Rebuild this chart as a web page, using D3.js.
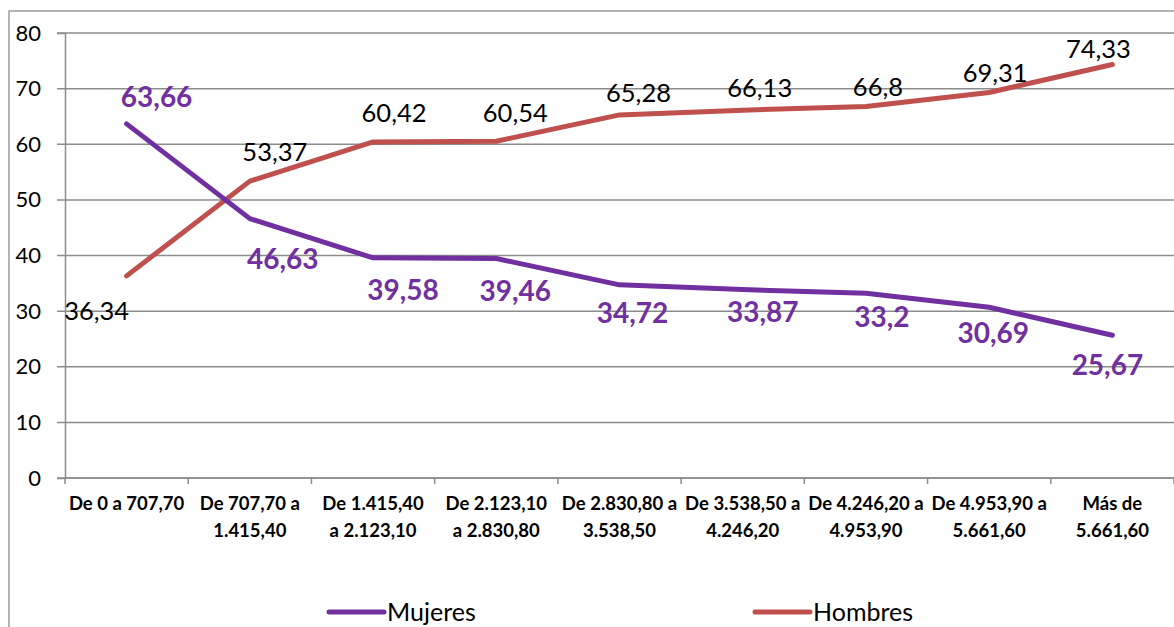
<!DOCTYPE html>
<html>
<head>
<meta charset="utf-8">
<script src="https://cdn.jsdelivr.net/npm/d3@7"></script>
<style>
  html, body { margin: 0; padding: 0; background: #fff; }
  svg { display: block; font-family: Lato, "Open Sans", sans-serif; }
</style>
</head>
<body>
<div id="chart"></div>
<script>
// data
const categories = [
    "De 0 a 707,70",
    "De 707,70 a\n1.415,40",
    "De 1.415,40\na 2.123,10",
    "De 2.123,10\na 2.830,80",
    "De 2.830,80 a\n3.538,50",
    "De 3.538,50 a\n4.246,20",
    "De 4.246,20 a\n4.953,90",
    "De 4.953,90 a\n5.661,60",
    "Más de\n5.661,60"
];
const mujeres = [63.66, 46.63, 39.58, 39.46, 34.72, 33.87, 33.2, 30.69, 25.67];
const hombres = [36.34, 53.37, 60.42, 60.54, 65.28, 66.13, 66.8, 69.31, 74.33];
const yTicks = [0, 10, 20, 30, 40, 50, 60, 70, 80];

// colours
const MUJERES_COLOR = "#7030A0";
const HOMBRES_COLOR = "#C0504D";
const GRID_COLOR = "#8c8c8c";

const width = 1174, height = 627;
const plot = { left: 65, right: 1174, top: 33, bottom: 478 };

// label nudges (px from point), as placed in the original
const mujNudge = [[30, -27], [33, 40], [30, 32], [19, 32], [13, 28], [20, 22], [16, 24], [4, 26], [-5, 30]];
const homNudge = [[-30, 35], [25, -29], [21, -29], [19, -28], [19, -22], [17, -22], [12, -20], [6, -20], [-14, -16]];

var svg = d3.select("#chart")
    .append("svg")
    .attr("width", width)
    .attr("height", height);

// outer chart border (cropped on the right/bottom)
svg.append("rect")
    .attr("x", 9)
    .attr("y", 11)
    .attr("width", width + 20)
    .attr("height", height + 20)
    .attr("fill", "white")
    .attr("stroke", GRID_COLOR)
    .attr("stroke-width", 1.3);

var xScale = d3.scaleBand()
    .domain(d3.range(categories.length))
    .range([plot.left, plot.right]);

var yScale = d3.scaleLinear()
    .domain([0, 80])
    .range([plot.bottom, plot.top]);

// gridlines
svg.append("g")
    .selectAll("line")
    .data(yTicks)
    .enter()
    .append("line")
    .attr("x1", plot.left - 8)
    .attr("x2", plot.right)
    .attr("y1", d => yScale(d))
    .attr("y2", d => yScale(d))
    .attr("stroke", GRID_COLOR)
    .attr("stroke-width", 1.5);

// y axis
var yAxis = svg.append("g")
    .attr("transform", `translate(${plot.left},0)`)
    .call(d3.axisLeft(yScale).tickValues(yTicks).tickSize(8).tickPadding(16));
yAxis.select(".domain").attr("stroke", GRID_COLOR).attr("stroke-width", 1.5);
yAxis.selectAll(".tick line").remove();
yAxis.selectAll(".tick text")
    .attr("font-family", "Lato, sans-serif")
    .attr("font-size", 22)
    .attr("fill", "black");

// x axis ticks at category boundaries
var bounds = d3.range(categories.length + 1).map(i => plot.left + i * xScale.bandwidth());
svg.append("g")
    .selectAll("line")
    .data(bounds)
    .enter()
    .append("line")
    .attr("x1", d => d)
    .attr("x2", d => d)
    .attr("y1", plot.bottom)
    .attr("y2", plot.bottom + 6)
    .attr("stroke", GRID_COLOR)
    .attr("stroke-width", 1.5);

svg.append("line")
    .attr("x1", plot.left)
    .attr("x2", plot.right)
    .attr("y1", plot.bottom)
    .attr("y2", plot.bottom)
    .attr("stroke", GRID_COLOR)
    .attr("stroke-width", 1.5);

// category labels
var catText = svg.append("g")
    .selectAll("text")
    .data(categories)
    .enter()
    .append("text")
    .attr("x", (d, i) => xScale(i) + xScale.bandwidth() / 2)
    .attr("y", plot.bottom + 32)
    .attr("text-anchor", "middle")
    .attr("font-size", 18.5)
    .attr("font-weight", "bold")
    .attr("fill", "black");
catText.each(function (d) {
    var lines = d.split("\n");
    var t = d3.select(this);
    lines.forEach((ln, k) => {
        t.append("tspan")
            .attr("x", t.attr("x"))
            .attr("dy", k === 0 ? 0 : 27)
            .text(ln);
    });
});

var cx = i => xScale(i) + xScale.bandwidth() / 2;

var line = d3.line()
    .x((d, i) => cx(i))
    .y(d => yScale(d));

svg.append("path")
    .datum(hombres)
    .attr("d", line)
    .attr("fill", "none")
    .attr("stroke", HOMBRES_COLOR)
    .attr("stroke-width", 5)
    .attr("stroke-linejoin", "round")
    .attr("stroke-linecap", "round");

svg.append("path")
    .datum(mujeres)
    .attr("d", line)
    .attr("fill", "none")
    .attr("stroke", MUJERES_COLOR)
    .attr("stroke-width", 5)
    .attr("stroke-linejoin", "round")
    .attr("stroke-linecap", "round");

var fmt = v => String(v).replace(".", ",");

// data labels
svg.append("g")
    .selectAll("text")
    .data(hombres)
    .enter()
    .append("text")
    .attr("x", (d, i) => cx(i) + homNudge[i][0])
    .attr("y", (d, i) => yScale(d) + homNudge[i][1])
    .attr("dy", "0.36em")
    .attr("text-anchor", "middle")
    .attr("font-size", 25.5)
    .attr("fill", "black")
    .text(fmt);

svg.append("g")
    .selectAll("text")
    .data(mujeres)
    .enter()
    .append("text")
    .attr("x", (d, i) => cx(i) + mujNudge[i][0])
    .attr("y", (d, i) => yScale(d) + mujNudge[i][1])
    .attr("dy", "0.36em")
    .attr("text-anchor", "middle")
    .attr("font-size", 28)
    .attr("font-weight", "bold")
    .attr("fill", MUJERES_COLOR)
    .text(fmt);

// legend
var legend = [
    { name: "Mujeres", color: MUJERES_COLOR, x: 329 },
    { name: "Hombres", color: HOMBRES_COLOR, x: 755 }
];
var lg = svg.append("g")
    .selectAll("g")
    .data(legend)
    .enter()
    .append("g")
    .attr("transform", d => `translate(${d.x},612)`);
lg.append("line")
    .attr("x1", 0)
    .attr("x2", 55)
    .attr("stroke", d => d.color)
    .attr("stroke-width", 5)
    .attr("stroke-linecap", "round");
lg.append("text")
    .attr("x", 58)
    .attr("dy", "0.36em")
    .attr("font-size", 25)
    .attr("fill", "black")
    .text(d => d.name);
</script>
</body>
</html>
